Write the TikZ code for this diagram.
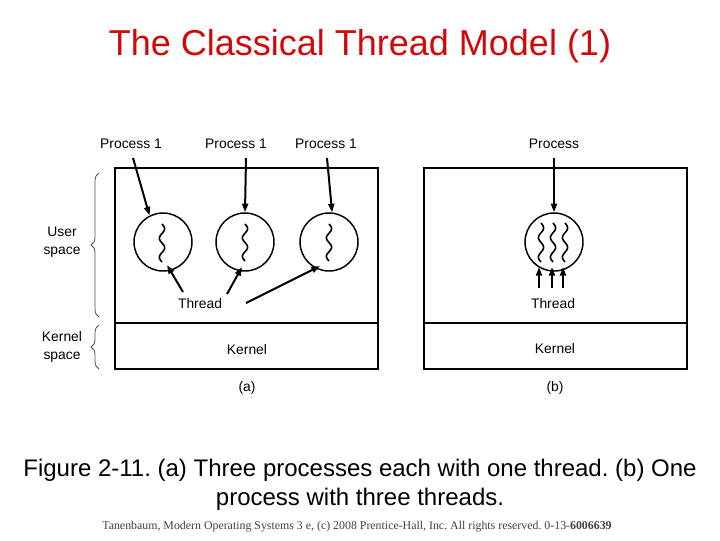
\documentclass[tikz,border=0pt]{standalone}
\usepackage{fontspec}
\setmainfont{Liberation Sans}
\newfontfamily\footfont{Liberation Serif}
\usetikzlibrary{arrows.meta,decorations.pathreplacing}
\definecolor{titlered}{RGB}{210,8,8}
\newcommand\squig[3]{\draw[thr] plot[domain=0:1,samples=40,smooth] ({#1+2.6*sin(\x*720)},{#2+\x*(#3-#2)});}
\frenchspacing
\begin{document}
\begin{tikzpicture}[x=0.75pt,y=-0.75pt,
 lbl/.style={font=\fontsize{10.4}{13.5}\selectfont,inner sep=0pt,align=center},
 proc/.style={circle,draw,line width=1.1pt,minimum size=43.5pt,inner sep=0pt},
 box/.style={draw,line width=1.1pt},
 parrow/.style={-{Triangle[length=6.5pt,width=4.5pt]},line width=1.5pt},
 thr/.style={line width=1.2pt},
 brc/.style={decorate,decoration={brace,amplitude=6pt},line width=0.6pt,black!70}]
\useasboundingbox (0,0) rectangle (720,540);

\node[font=\fontsize{27}{32}\selectfont,text=titlered,inner sep=0pt] (title) at (360,46) {The Classical Thread Model (1)};

% ---------- panel (a)
\draw[box] (115,168) rectangle (378,323);
\draw[box] (115,323) rectangle (378,369);
\node[lbl] (p1) at (131,144) {Process 1};
\node[lbl] (p2) at (236,144) {Process 1};
\node[lbl] (p3) at (326,144) {Process 1};
\node[proc] (c1) at (163,242) {};
\node[proc] (c2) at (245,242) {};
\node[proc] (c3) at (329,242) {};
\coordinate (p1a) at (133,158);
\coordinate (p2a) at (246,158);
\coordinate (p3a) at (327,158);
\draw[parrow] (p1a) -- (c1.117);
\draw[parrow] (p2a) -- (c2.north);
\draw[parrow] (p3a) -- (c3.84);
\squig{162}{224}{262}
\squig{245}{224}{261}
\squig{329}{224}{261}
\coordinate (t1) at (167,265);
\coordinate (t2) at (242,267);
\coordinate (t3) at (320,266);
\node[lbl] (tha) at (200,304) {Thread};
\coordinate (ta1) at (183,292);
\coordinate (ta2) at (227,294);
\coordinate (ta3) at (246,303);
\draw[parrow] (ta1) -- (t1);
\draw[parrow] (ta2) -- (t2);
\draw[parrow] (ta3) -- (t3);
\node[lbl] (ka) at (247,350) {Kernel};
\node[lbl] (la) at (247,388) {(a)};
\node[lbl] (us) at (62,242) {User\\space};
\node[lbl] (ks) at (62,347) {Kernel\\space};
\draw[brc] (99,317) -- (99,173);
\draw[brc] (99,369) -- (99,325);

% ---------- panel (b)
\draw[box] (424,168) rectangle (687,323);
\draw[box] (424,323) rectangle (687,369);
\node[lbl] (pb) at (554,144) {Process};
\node[proc] (cb) at (554,242) {};
\coordinate (pba) at (554,158);
\draw[parrow] (pba) -- (cb.north);
\squig{541}{223}{262}
\squig{553}{223}{262}
\squig{565}{223}{262}
\node[lbl] (thb) at (553,304) {Thread};
\coordinate (tb1) at (539,288);
\coordinate (tb2) at (552,288);
\coordinate (tb3) at (563,288);
\coordinate (te1) at (539,267);
\coordinate (te2) at (552,267);
\coordinate (te3) at (563,267);
\draw[parrow] (tb1) -- (te1);
\draw[parrow] (tb2) -- (te2);
\draw[parrow] (tb3) -- (te3);
\node[lbl] (kb) at (555,349) {Kernel};
\node[lbl] (lb) at (555,388) {(b)};

% ---------- caption
\node[font=\fontsize{18}{22}\selectfont,align=center,inner sep=0pt] (cap) at (360,485)
 {Figure 2-11. (a) Three processes each with one thread. (b) One\\process with three threads.};
\node[font=\footfont\fontsize{8.9}{10}\selectfont,text=black!75,inner sep=0pt] (foot) at (357,527)
 {Tanenbaum, Modern Operating Systems 3 e, (c) 2008 Prentice-Hall, Inc. All rights reserved. 0-13-\textbf{6006639}};
\end{tikzpicture}
\end{document}
